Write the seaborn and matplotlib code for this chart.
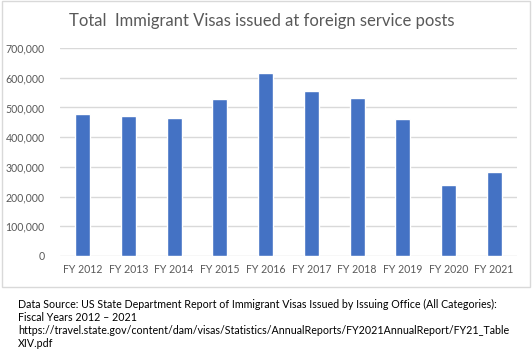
import matplotlib
matplotlib.use("Agg")
import matplotlib.pyplot as plt
import seaborn as sns
import pandas as pd
from matplotlib.patches import Rectangle
from matplotlib.ticker import FuncFormatter

years = ["FY 2012", "FY 2013", "FY 2014", "FY 2015", "FY 2016",
         "FY 2017", "FY 2018", "FY 2019", "FY 2020", "FY 2021"]
visas = [478000, 471000, 464000, 529000, 617000,
         555000, 532000, 461000, 239000, 283000]
yticks = [0, 100000, 200000, 300000, 400000, 500000, 600000, 700000]

title = "Total  Immigrant Visas issued at foreign service posts"
note_lines = [
    "Data Source: US State Department Report of Immigrant Visas Issued by Issuing Office (All Categories):",
    "Fiscal Years 2012 \u2013 2021",
    "https://travel.state.gov/content/dam/visas/Statistics/AnnualReports/FY2021AnnualReport/FY21_Table",
    "XIV.pdf",
]

sns.set_theme(style="white")
plt.rcParams["font.family"] = ["Lato", "DejaVu Sans"]

df = pd.DataFrame({"year": years, "visas": visas})

fig = plt.figure(figsize=(5.32, 3.60), dpi=100)
fig.patch.set_facecolor("white")

# chart box border
fig.patches.append(Rectangle((2 / 532, 73 / 360), 528 / 532, 286 / 360,
                             transform=fig.transFigure, fill=False,
                             edgecolor="#D9D9D9", linewidth=1.0))

ax = fig.add_axes([60 / 532, 104 / 360, 457 / 532, 208 / 360])
sns.barplot(data=df, x="year", y="visas", color="#4472C4", width=0.33,
            saturation=1, ax=ax, zorder=3)
ax.set_ylim(0, 700000)
ax.set_xlim(-0.5, 9.5)
ax.set_yticks(yticks)
ax.yaxis.set_major_formatter(FuncFormatter(lambda v, p: f"{int(v):,}"))
ax.set_xlabel("")
ax.set_ylabel("")
ax.grid(axis="y", color="#D9D9D9", linewidth=1.0, zorder=0)
ax.grid(axis="x", visible=False)
for s in ax.spines.values():
    s.set_visible(False)
ax.tick_params(axis="both", length=0, labelsize=7.6, labelcolor="#595959")
ax.tick_params(axis="y", pad=11)
ax.tick_params(axis="x", pad=6)

fig.text(262 / 532, 1 - 21 / 360, title, ha="center", va="center",
         fontsize=12, color="#595959")

for i, line in enumerate(note_lines):
    fig.text(18 / 532, 1 - (304 + i * 13.3) / 360, line, ha="left", va="center",
             fontsize=7.7, color="black")

fig.savefig("out.png", dpi=100, facecolor="white")
